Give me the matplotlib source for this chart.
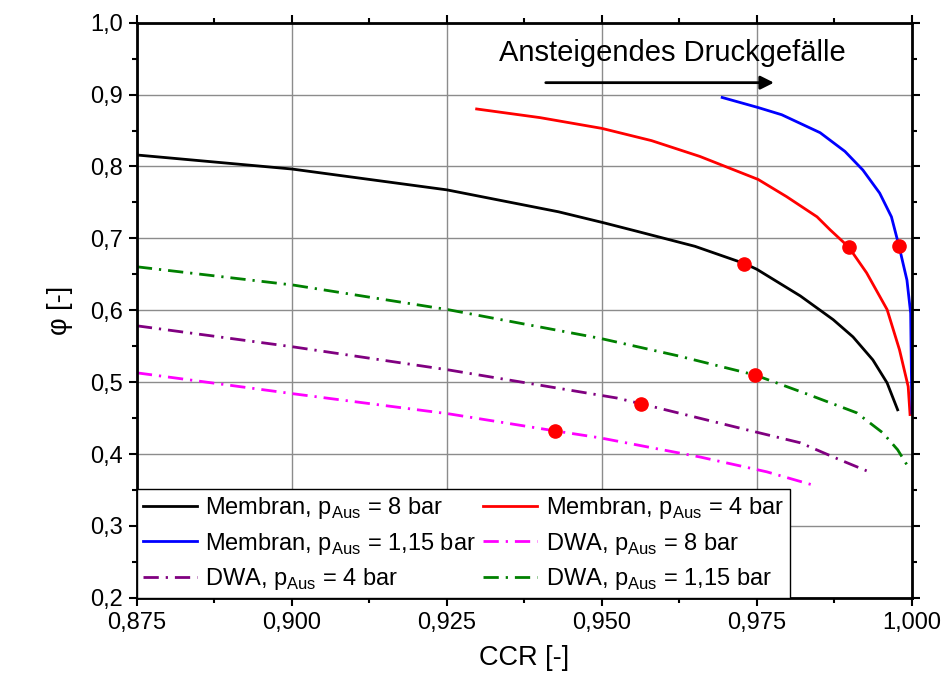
import matplotlib
matplotlib.use('Agg')
import matplotlib.pyplot as plt
from matplotlib.ticker import MultipleLocator, FuncFormatter

plt.rcParams['font.family'] = ['Liberation Sans', 'DejaVu Sans']
plt.rcParams['mathtext.fontset'] = 'custom'
plt.rcParams['mathtext.rm'] = 'Liberation Sans'

# Membran-Kurven
mem8_x = [0.875, 0.900, 0.925, 0.943, 0.9503, 0.9556, 0.9650, 0.973, 0.975, 0.982, 0.9873, 0.9905, 0.9937, 0.996, 0.9977]
mem8_y = [0.816, 0.7965, 0.7675, 0.737, 0.7217, 0.710, 0.689, 0.665, 0.657, 0.620, 0.587, 0.563, 0.531, 0.499, 0.4616]
mem4_x = [0.9298, 0.940, 0.950, 0.958, 0.9658, 0.9752, 0.9798, 0.9847, 0.9868, 0.9898, 0.9927, 0.996, 0.998, 0.9994, 0.9997]
mem4_y = [0.880, 0.868, 0.853, 0.836, 0.814, 0.782, 0.758, 0.730, 0.712, 0.688, 0.652, 0.601, 0.545, 0.494, 0.455]
mem115_x = [0.9694, 0.9752, 0.979, 0.9852, 0.9892, 0.9921, 0.9948, 0.9967, 0.9979, 0.9992, 0.9998, 1.0]
mem115_y = [0.896, 0.882, 0.872, 0.847, 0.821, 0.795, 0.763, 0.730, 0.690, 0.642, 0.596, 0.457]

# DWA-Kurven
dwa8_x = [0.875, 0.9003, 0.9253, 0.9424, 0.9497, 0.9658, 0.9766, 0.984]
dwa8_y = [0.513, 0.4838, 0.456, 0.4323, 0.4226, 0.396, 0.3753, 0.357]
dwa4_x = [0.875, 0.9003, 0.9253, 0.9524, 0.9563, 0.9734, 0.982, 0.9884, 0.9927]
dwa4_y = [0.5784, 0.549, 0.517, 0.478, 0.470, 0.4337, 0.4157, 0.392, 0.3767]
dwa115_x = [0.875, 0.9003, 0.9253, 0.9497, 0.9621, 0.9747, 0.983, 0.9911, 0.9953, 0.9977, 0.9992]
dwa115_y = [0.6605, 0.635, 0.6007, 0.5610, 0.537, 0.510, 0.4838, 0.4574, 0.4296, 0.406, 0.385]

# Betriebspunkte
pts_x = [0.973, 0.9898, 0.9979, 0.9747, 0.9563, 0.9424]
pts_y = [0.664, 0.688, 0.690, 0.510, 0.470, 0.4323]

fig = plt.figure(figsize=(9.44, 6.88), dpi=100)
ax = fig.add_axes([0.145, 0.131, 0.821, 0.836])

dd = (0, (5.5, 2.5, 0.8, 2.5))
lw = 2.0
h1, = ax.plot(mem8_x, mem8_y, color='black', lw=lw, label=r'Membran, p$_{\mathrm{Aus}}$ = 8 bar')
h2, = ax.plot(mem4_x, mem4_y, color='red', lw=lw, label=r'Membran, p$_{\mathrm{Aus}}$ = 4 bar')
h3, = ax.plot(mem115_x, mem115_y, color='blue', lw=lw, label=r'Membran, p$_{\mathrm{Aus}}$ = 1,15 bar')
h4, = ax.plot(dwa8_x, dwa8_y, color='magenta', lw=lw, ls=dd, label=r'DWA, p$_{\mathrm{Aus}}$ = 8 bar')
h5, = ax.plot(dwa4_x, dwa4_y, color='purple', lw=lw, ls=dd, label=r'DWA, p$_{\mathrm{Aus}}$ = 4 bar')
h6, = ax.plot(dwa115_x, dwa115_y, color='green', lw=lw, ls=dd, label=r'DWA, p$_{\mathrm{Aus}}$ = 1,15 bar')
ax.plot(pts_x, pts_y, 'o', color='red', ms=9.5, zorder=5)

ax.set_xlim(0.875, 1.0)
ax.set_ylim(0.2, 1.0)
ax.xaxis.set_major_locator(MultipleLocator(0.025))
ax.xaxis.set_minor_locator(MultipleLocator(0.0125))
ax.yaxis.set_major_locator(MultipleLocator(0.1))
ax.yaxis.set_minor_locator(MultipleLocator(0.05))
ax.xaxis.set_major_formatter(FuncFormatter(lambda v, p: f'{v:.3f}'.replace('.', ',')))
ax.yaxis.set_major_formatter(FuncFormatter(lambda v, p: f'{v:.1f}'.replace('.', ',')))
ax.tick_params(which='both', direction='out', top=True, right=True, labelsize=17, width=1.5)
ax.tick_params(which='major', length=6, pad=4)
ax.tick_params(which='minor', length=3.5)
ax.grid(True, which='major', color='#8c8c8c', lw=1)
for s in ax.spines.values():
    s.set_linewidth(2)

ax.set_xlabel('CCR [-]', fontsize=19.5, labelpad=8)
ax.set_ylabel('φ [-]', fontsize=19.5, labelpad=12)

ax.annotate('', xy=(0.9782, 0.9166), xytext=(0.9405, 0.9166),
            arrowprops=dict(arrowstyle='-|>', color='black', lw=2, mutation_scale=20))
ax.text(0.9613, 0.958, 'Ansteigendes Druckgefälle', fontsize=21, ha='center', va='center')

order = [h1, h3, h5, h2, h4, h6]
leg = ax.legend(order, [h.get_label() for h in order],
                ncol=2, loc='lower left', bbox_to_anchor=(0.0, 0.0), fontsize=17,
                fancybox=False, framealpha=1, edgecolor='black', borderaxespad=0,
                handlelength=2.3, columnspacing=0.3, handletextpad=0.35, labelspacing=0.4,
                borderpad=0.25)
leg.get_frame().set_linewidth(1)

fig.savefig('out.png', dpi=100)
